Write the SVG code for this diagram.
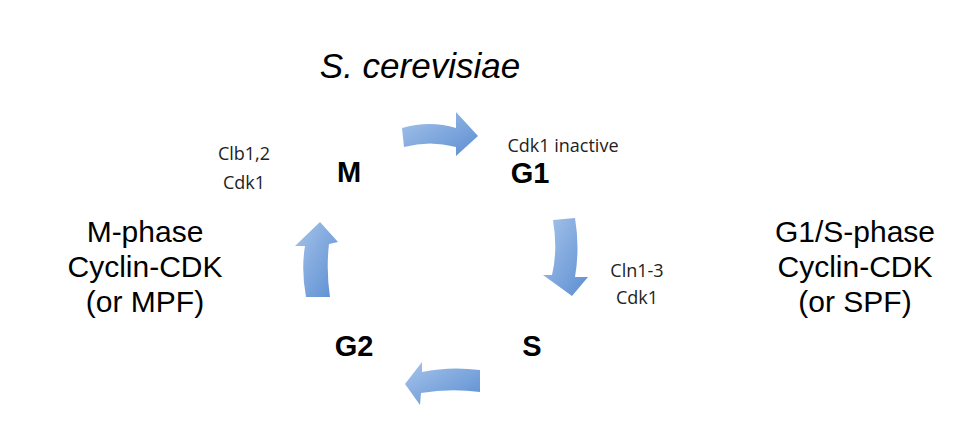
<svg xmlns="http://www.w3.org/2000/svg" width="976" height="448" viewBox="0 0 976 448">
<style>
.t{font-family:"Liberation Sans",Arial,sans-serif;fill:#000}
.ph{font-size:29px;font-weight:bold;text-anchor:middle}
.sm{font-family:"Open Sans","DejaVu Sans",sans-serif;font-size:18px;fill:#222;text-anchor:middle}
.big{font-size:30px;text-anchor:middle}
.ar{fill:url(#g)}
</style>
<defs>
<linearGradient id="g" x1="0" y1="0" x2="1" y2="1"><stop offset="0" stop-color="#a7c4ea"/><stop offset="1" stop-color="#5b8ed2"/></linearGradient>
</defs>
<rect width="976" height="448" fill="#fff"/>
<text class="t" x="420" y="78" font-size="35" font-style="italic" text-anchor="middle" fill="#222">S. cerevisiae</text>
<g id="M"><text class="t ph" x="349" y="182">M</text></g>
<g id="G1"><text class="t ph" x="530" y="183">G1</text></g>
<g id="S"><text class="t ph" x="532" y="356">S</text></g>
<g id="G2"><text class="t ph" x="354" y="356">G2</text></g>
<text class="sm" x="244" y="160">Clb1,2</text>
<text class="sm" x="244" y="189">Cdk1</text>
<text class="sm" x="563" y="152" text-anchor="start">Cdk1 inactive</text>
<text class="sm" x="637" y="277">Cln1-3</text>
<text class="sm" x="637" y="304">Cdk1</text>
<g id="mphase"><text class="t big" x="145" y="242">M-phase</text><text class="t big" x="145" y="277">Cyclin-CDK</text><text class="t big" x="145" y="312">(or MPF)</text></g>
<g id="g1sphase"><text class="t big" x="855" y="242">G1/S-phase</text><text class="t big" x="855" y="277">Cyclin-CDK</text><text class="t big" x="855" y="312">(or SPF)</text></g>
<g id="connectors">
<path class="ar" d="M402,128 Q430,120 456,128 L456,112 L478,136 L456,156 L456,147 Q430,140 404,147 Z"/>
<path class="ar" d="M553,220 Q558,250 552,275 L543,275 L572,296 L588,277 L575,277 Q580,248 575,218 Z"/>
<path class="ar" d="M480,370 Q450,366 422,372 L422,362 L405,384 L420,405 L421,393 Q450,388 480,392 Z"/>
<path class="ar" d="M306,297 Q301,270 305,246 L295,246 L320,222 L338,242 L329,244 Q326,270 330,297 Z"/>
</g>
</svg>
